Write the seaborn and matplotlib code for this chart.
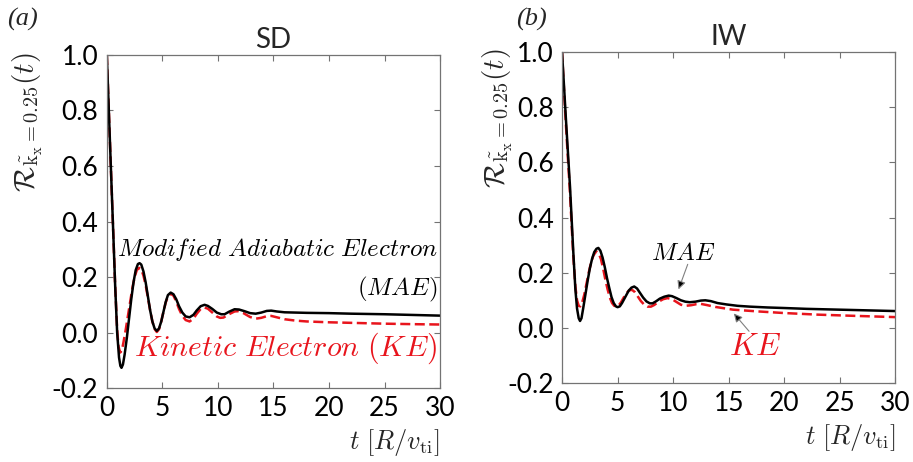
import numpy as np
import pandas as pd
import matplotlib
matplotlib.use("Agg")
import matplotlib.pyplot as plt
import seaborn as sns

# ---------------- data ----------------
sd_mae_t = [0, 0.18, 0.36, 0.57, 0.75, 0.93, 1.1, 1.22, 1.32, 1.45, 1.6, 1.8, 2.0, 2.2, 2.4,
            2.6, 2.8, 2.95, 3.1, 3.3, 3.5, 3.7, 3.9, 4.1, 4.3, 4.5, 4.7, 4.9, 5.1, 5.3, 5.5,
            5.75, 6.0, 6.25, 6.5, 6.8, 7.1, 7.45, 7.8, 8.1, 8.45, 8.8, 9.1, 9.5, 9.9, 10.3,
            10.6, 11.0, 11.5, 11.9, 12.4, 12.9, 13.4, 13.9, 14.4, 14.8, 15.3, 16, 17, 18,
            20, 22, 25, 28, 30]
sd_mae_v = [1.0, 0.8, 0.6, 0.37, 0.17, 0.0, -0.09, -0.12, -0.127, -0.115, -0.08, -0.02,
            0.05, 0.12, 0.18, 0.225, 0.247, 0.25, 0.245, 0.22, 0.18, 0.13, 0.08, 0.04,
            0.015, 0.006, 0.015, 0.04, 0.075, 0.11, 0.135, 0.144, 0.138, 0.12, 0.095,
            0.072, 0.058, 0.055, 0.064, 0.08, 0.095, 0.10, 0.096, 0.085, 0.072, 0.066,
            0.066, 0.075, 0.084, 0.083, 0.077, 0.07, 0.068, 0.072, 0.078, 0.079, 0.076,
            0.073, 0.072, 0.071, 0.070, 0.068, 0.066, 0.063, 0.061]

sd_ke_t = [0, 0.18, 0.36, 0.57, 0.75, 0.93, 1.05, 1.2, 1.35, 1.5, 1.7, 1.9, 2.1, 2.3, 2.5,
           2.7, 2.9, 3.1, 3.3, 3.5, 3.7, 3.9, 4.1, 4.3, 4.5, 4.7, 4.9, 5.1, 5.3, 5.5, 5.75,
           6.0, 6.25, 6.5, 6.8, 7.1, 7.45, 7.8, 8.1, 8.45, 8.8, 9.1, 9.5, 9.9, 10.2, 10.5,
           11.0, 11.5, 11.8, 12.3, 12.9, 13.4, 13.9, 14.4, 14.8, 15.3, 16, 17, 18, 20, 22,
           25, 28, 30]
sd_ke_v = [1.0, 0.8, 0.6, 0.37, 0.17, 0.01, -0.05, -0.072, -0.065, -0.035, 0.01, 0.06,
           0.11, 0.16, 0.2, 0.225, 0.233, 0.228, 0.205, 0.17, 0.125, 0.08, 0.04, 0.013,
           0.002, 0.012, 0.04, 0.075, 0.108, 0.13, 0.14, 0.133, 0.112, 0.085, 0.06, 0.045,
           0.04, 0.05, 0.068, 0.085, 0.09, 0.086, 0.072, 0.058, 0.053, 0.054, 0.066,
           0.076, 0.077, 0.07, 0.056, 0.05, 0.053, 0.059, 0.06, 0.055, 0.048, 0.043, 0.04,
           0.037, 0.035, 0.032, 0.03, 0.029]

iw_mae_t = [0, 0.36, 0.72, 1.02, 1.2, 1.35, 1.5, 1.62, 1.75, 1.9, 2.1, 2.3, 2.5, 2.7, 2.9,
            3.1, 3.27, 3.45, 3.65, 3.85, 4.05, 4.25, 4.45, 4.65, 4.85, 5.0, 5.2, 5.4, 5.6,
            5.8, 6.0, 6.25, 6.5, 6.75, 7.0, 7.3, 7.6, 7.9, 8.15, 8.45, 8.8, 9.2, 9.6, 9.9,
            10.3, 10.7, 11.1, 11.5, 12.0, 12.5, 12.9, 13.4, 14.0, 14.8, 15.8, 16.9, 18.5,
            20, 22, 25, 28, 30]
iw_mae_v = [1.0, 0.75, 0.51, 0.27, 0.14, 0.07, 0.035, 0.025, 0.035, 0.07, 0.12, 0.17,
            0.215, 0.25, 0.275, 0.287, 0.29, 0.28, 0.255, 0.22, 0.18, 0.145, 0.112, 0.09,
            0.078, 0.075, 0.078, 0.09, 0.105, 0.12, 0.135, 0.146, 0.15, 0.143, 0.128,
            0.11, 0.096, 0.089, 0.089, 0.096, 0.106, 0.113, 0.117, 0.115, 0.108, 0.1,
            0.095, 0.093, 0.095, 0.099, 0.1, 0.097, 0.09, 0.085, 0.08, 0.077, 0.074,
            0.072, 0.069, 0.066, 0.063, 0.061]

iw_ke_t = [0, 0.3, 0.7, 1.0, 1.2, 1.35, 1.5, 1.65, 1.8, 2.0, 2.2, 2.4, 2.6, 2.8, 3.0, 3.15,
           3.3, 3.5, 3.7, 3.9, 4.1, 4.3, 4.5, 4.7, 4.9, 5.1, 5.3, 5.55, 5.8, 6.05, 6.3,
           6.55, 6.8, 7.1, 7.4, 7.7, 8.0, 8.3, 8.7, 9.1, 9.5, 9.9, 10.3, 10.7, 11.1, 11.6,
           12.1, 12.5, 13.0, 13.8, 15.4, 17.5, 19.9, 23, 26, 30]
iw_ke_v = [1.0, 0.77, 0.5, 0.27, 0.15, 0.1, 0.08, 0.078, 0.09, 0.12, 0.16, 0.2, 0.235,
           0.26, 0.274, 0.276, 0.27, 0.25, 0.215, 0.175, 0.14, 0.11, 0.09, 0.08, 0.078,
           0.082, 0.092, 0.11, 0.126, 0.136, 0.138, 0.13, 0.115, 0.097, 0.084, 0.077,
           0.077, 0.083, 0.095, 0.104, 0.108, 0.104, 0.094, 0.084, 0.08, 0.082, 0.086,
           0.087, 0.083, 0.076, 0.066, 0.06, 0.054, 0.048, 0.044, 0.039]

x_ticks = [0, 5, 10, 15, 20, 25, 30]
y_ticks = [-0.2, 0.0, 0.2, 0.4, 0.6, 0.8, 1.0]
y_ticklabels = ["-0.2", "0.0", "0.2", "0.4", "0.6", "0.8", "1.0"]
panel_titles = ["SD", "IW"]
panel_tags = ["(a)", "(b)"]

RED = "#e8141c"

# ---------------- styling ----------------
sns.set_style("ticks")
plt.rcParams["font.family"] = ["Lato", "DejaVu Sans"]
plt.rcParams["mathtext.fontset"] = "cm"

fig = plt.figure(figsize=(9.13, 4.62), dpi=100)
ax1 = fig.add_axes([0.117, 0.160, 0.365, 0.721])
ax2 = fig.add_axes([0.6156, 0.171, 0.365, 0.716])

def make_df(t, v):
    return pd.DataFrame({"t": t, "R": v})

panels = [
    (ax1, make_df(sd_mae_t, sd_mae_v), make_df(sd_ke_t, sd_ke_v)),
    (ax2, make_df(iw_mae_t, iw_mae_v), make_df(iw_ke_t, iw_ke_v)),
]

for i, (ax, dmae, dke) in enumerate(panels):
    sns.lineplot(data=dke, x="t", y="R", ax=ax, color=RED, lw=1.8,
                 sort=False, estimator=None)
    sns.lineplot(data=dmae, x="t", y="R", ax=ax, color="black", lw=1.8,
                 sort=False, estimator=None)
    ax.lines[0].set_dashes([4, 1.8])
    for ln in ax.lines:
        ln.set_solid_joinstyle("round")
        ln.set_dash_joinstyle("round")
    ax.set_xlim(0, 30)
    ax.set_ylim(-0.2, 1.0)
    ax.set_xticks(x_ticks)
    ax.set_yticks(y_ticks)
    ax.set_yticklabels(y_ticklabels)
    ax.tick_params(direction="in", length=4, width=0.8, color="0.45",
                   top=True, right=True, labelsize=19, pad=6, labelcolor="black")
    for s in ax.spines.values():
        s.set_color("0.45")
        s.set_linewidth(0.9)
        s.set_visible(True)
    ax.set_title(panel_titles[i], fontsize=20, pad=5)
    ax.set_xlabel(r"$t\ [R/v_{\mathrm{ti}}]$", fontsize=19, loc="right", labelpad=4)
    ax.set_ylabel(r"$\mathcal{R}_{\tilde{\mathrm{k}}_{\mathrm{x}}=0.25}(t)$", fontsize=21)

ax1.yaxis.set_label_coords(-0.186, 0.80)
ax2.yaxis.set_label_coords(-0.14, 0.80)

fig.text(0.025, 0.958, panel_tags[0], fontsize=19,
         family="Liberation Serif", style="italic", va="center", ha="center")
fig.text(0.582, 0.958, panel_tags[1], fontsize=19,
         family="Liberation Serif", style="italic", va="center", ha="center")

# annotations left
ax1.text(29.8, 0.30, r"$Modified\ Adiabatic\ Electron$", fontsize=18,
         ha="right", va="center", color="black")
ax1.text(29.8, 0.155, r"$(MAE)$", fontsize=18, ha="right", va="center", color="black")
ax1.text(29.7, -0.055, r"$Kinetic\ Electron\ (KE)$", fontsize=21.5,
         ha="right", va="center", color=RED)

# annotations right
ax2.text(10.9, 0.275, r"$MAE$", fontsize=18, ha="center", va="center", color="black")
ax2.text(17.4, -0.065, r"$KE$", fontsize=22.5, ha="center", va="center", color=RED)
ax2.annotate("", xy=(10.4, 0.13), xytext=(11.4, 0.24),
             arrowprops=dict(arrowstyle="-|>,head_length=0.5,head_width=0.25",
                             fc="black", ec="0.5", lw=0.8))
ax2.annotate("", xy=(15.3, 0.06), xytext=(17.0, -0.02),
             arrowprops=dict(arrowstyle="-|>,head_length=0.5,head_width=0.25",
                             fc="black", ec="0.5", lw=0.8))

fig.savefig("out.png", dpi=100)
